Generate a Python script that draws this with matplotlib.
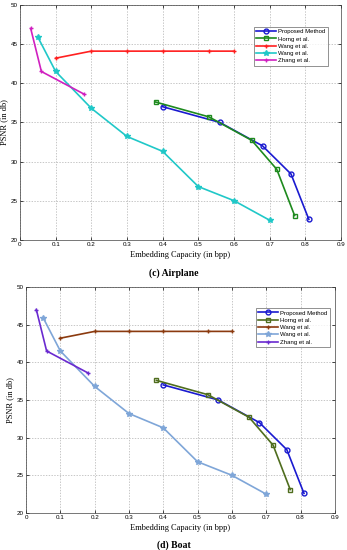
import matplotlib
matplotlib.use("Agg")
import matplotlib.pyplot as plt
import numpy as np

# Data
prop_x = [0.40, 0.56, 0.68, 0.76, 0.81]
prop_y = [37.0, 35.0, 32.0, 28.4, 22.6]
horng_x = [0.38, 0.53, 0.65, 0.72, 0.77]
horng_y = [37.6, 35.7, 32.7, 29.0, 23.1]
wang1_x = [0.10, 0.20, 0.30, 0.40, 0.53, 0.60]
wang1_y = [43.2, 44.1, 44.1, 44.1, 44.1, 44.1]
wang2_x = [0.05, 0.10, 0.20, 0.30, 0.40, 0.50, 0.60, 0.70]
wang2_y = [45.9, 41.5, 36.8, 33.2, 31.3, 26.8, 25.0, 22.5]
zhang_x = [0.03, 0.06, 0.18]
zhang_y = [47.0, 41.5, 38.6]
labels = ["Proposed Method", "Horng et al.", "Wang et al.", "Wang et al.", "Zhang et al."]
xticks = [0, 0.1, 0.2, 0.3, 0.4, 0.5, 0.6, 0.7, 0.8, 0.9]
xticklabels = ["0", "0.1", "0.2", "0.3", "0.4", "0.5", "0.6", "0.7", "0.8", "0.9"]
yticks = [20, 25, 30, 35, 40, 45, 50]
titles = ["(c) Airplane", "(d) Boat"]

colors_c = ["#1a1ad0", "#1e8a1e", "#ff2020", "#20c8c8", "#d020c0"]
colors_d = ["#1a1ad0", "#4f6d1e", "#8b3a0f", "#7fa6d8", "#6a2ad0"]

fig = plt.figure(figsize=(3.47, 5.5), dpi=100)
ax1 = fig.add_axes([0.0576, 0.564, 0.925, 0.427])
ax2 = fig.add_axes([0.075, 0.0673, 0.890, 0.411])

serif = "Liberation Serif"
sans = "Liberation Sans"

def draw(ax, cols, leg_bbox, title, title_y, xlab_pad):
    ax.plot(prop_x, prop_y, '-o', color=cols[0], lw=1.2, ms=3.5, mfc='none', mew=1, label=labels[0])
    ax.plot(horng_x, horng_y, '-s', color=cols[1], lw=1.2, ms=3.5, mfc='none', mew=1, label=labels[1])
    ax.plot(wang1_x, wang1_y, '-+', color=cols[2], lw=1.2, ms=3, mew=1, label=labels[2])
    ax.plot(wang2_x, wang2_y, '-*', color=cols[3], lw=1.2, ms=4, label=labels[3])
    ax.plot(zhang_x, zhang_y, '-+', color=cols[4], lw=1.2, ms=3, mew=1, label=labels[4])
    ax.set_xlim(0, 0.9)
    ax.set_ylim(20, 50)
    ax.set_xticks(xticks)
    ax.set_xticklabels(xticklabels, fontsize=4.5, family=sans)
    ax.set_yticks(yticks)
    ax.set_yticklabels([str(v) for v in yticks], fontsize=4.5, family=sans)
    ax.tick_params(length=2, width=0.5, pad=1.5, direction='in', top=True, right=True)
    ax.grid(True, linestyle=(0, (2, 2)), color="#b0b0b0", lw=0.5)
    for s in ax.spines.values():
        s.set_linewidth(0.5)
        s.set_color("#404040")
    ax.set_xlabel("Embedding Capacity (in bpp)", fontsize=6, family=serif, labelpad=xlab_pad)
    ax.set_ylabel("PSNR (in db)", fontsize=6, family=serif, labelpad=2)
    leg = ax.legend(loc='upper left', bbox_to_anchor=leg_bbox, fontsize=4.3, prop={'family': sans, 'size': 4.3},
                    frameon=True, fancybox=False, edgecolor="#404040", handlelength=3.2,
                    borderpad=0.4, labelspacing=0.35, handletextpad=0.4)
    leg.get_frame().set_linewidth(0.5)
    fig.text(0.5, title_y, title, ha='center', va='center', fontsize=7, family=serif, weight='bold')

draw(ax1, colors_c, (0.72, 0.92), titles[0], 1 - 273 / 550, 3)
draw(ax2, colors_d, (0.735, 0.92), titles[1], 1 - 545 / 550, 3)

fig.savefig("out.png", dpi=100)
